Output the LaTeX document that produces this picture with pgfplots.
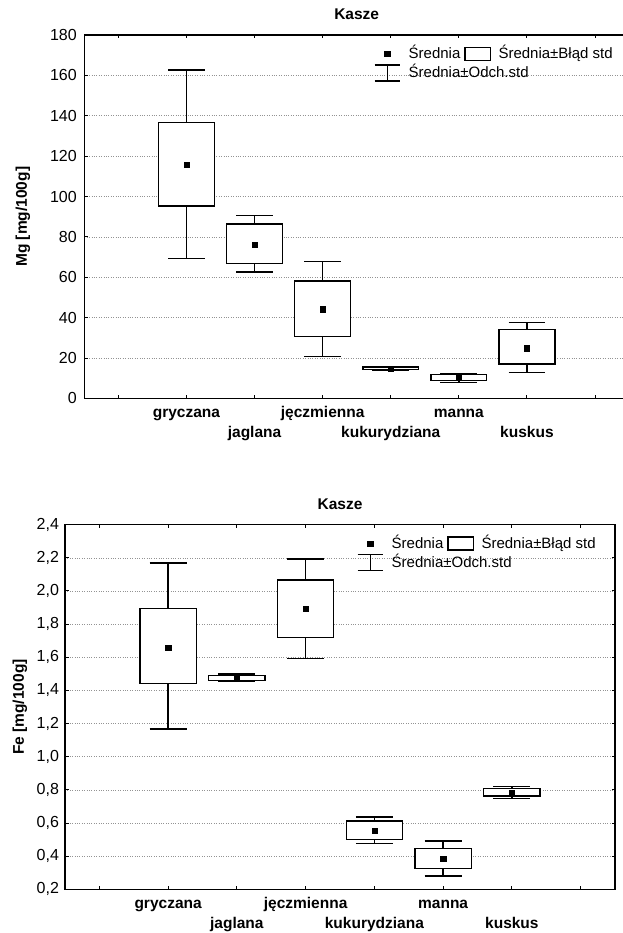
\documentclass[border=0pt]{standalone}
\usepackage{fontspec}
\setmainfont{Liberation Sans}
\usepackage{pgfplots}
\pgfplotsset{compat=1.18}
\usepgfplotslibrary{statistics}

\newcommand{\regfont}{\fontsize{15}{18}\selectfont}
\newcommand{\tickfont}{\fontsize{16}{18}\selectfont}
\newcommand{\boldfont}{\fontsize{15.5}{18}\selectfont\bfseries}

\pgfplotsset{
  kasze/.style={
    scale only axis,
    xmin=-0.5, xmax=7.5,
    xtick={0,1,2,3,4,5,6,7},
    xticklabels={,gryczana,,jęczmienna,,manna,,},
    extra x ticks={2,4,6},
    extra x tick labels={jaglana,kukurydziana,kuskus},
    extra x tick style={tick label style={yshift=-20pt}},
    xticklabel style={font=\boldfont, text height=11pt, text depth=3pt, yshift=-4.5pt},
    yticklabel style={font=\tickfont, xshift=-2.5pt},
    /pgf/number format/assume math mode=true,
    title={Kasze},
    title style={font=\boldfont, anchor=base, yshift=9pt},
    ylabel style={font=\boldfont, anchor=center},
    tick align=inside,
    major tick length=3.5pt,
    every tick/.style={black, line width=1pt},
    axis line style={line width=1.3pt},
    ymajorgrids,
    major grid style={dotted, gray!85, line width=0.6pt},
    legend columns=2,
    legend cell align=left,
    legend style={draw=none, fill=none, inner sep=0pt, outer sep=0pt,
      column sep=0pt, row sep=0pt, font=\regfont,
      nodes={inner xsep=4pt, inner ysep=3.6pt, text height=11pt, text depth=1pt}},
  },
  skrzynka/.style={
    draw=black, fill=white, line width=1.35pt, solid, forget plot,
    boxplot/draw direction=y,
    boxplot/box extend=0.82,
    boxplot/whisker extend=0.54,
    boxplot/draw/median/.code={},
  },
  srednie/.style={only marks, mark=square*, mark size=2.6pt, black, fill=black, forget plot},
  legenda/.code={
    \addlegendimage{legend image code/.code={
      \path[draw=none, fill=none] (0pt,0pt) -- (30pt,0pt);
      \fill[black] (9.9pt,-2.6pt) rectangle (15.1pt,2.6pt);}}
    \addlegendentry{Średnia}
    \addlegendimage{legend image code/.code={
      \path[draw=none, fill=none] (0pt,0pt) -- (30pt,0pt);
      \draw[line width=1.3pt, fill=none] (0.5pt,-6.5pt) rectangle (26pt,6.5pt);}}
    \addlegendentry{Średnia±Błąd std}
    \addlegendimage{legend image code/.code={
      \path[draw=none, fill=none] (0pt,0pt) -- (30pt,0pt);
      \draw[line width=1.3pt] (0pt,8pt) -- (25pt,8pt) (12.5pt,8pt) -- (12.5pt,-8pt) (0pt,-8pt) -- (25pt,-8pt);}}
    \addlegendentry{\makebox[0pt][l]{Średnia±Odch.std}}
  },
}

\begin{document}
\begin{tikzpicture}
\useasboundingbox (0pt,0pt) rectangle (622pt,933pt);

% Magnez
\begin{axis}[kasze,
  at={(84.3pt,534.5pt)}, anchor=south west,
  width=544.8pt, height=363.5pt,
  ymin=0, ymax=180,
  ytick={0,20,40,60,80,100,120,140,160,180},
  ylabel={Mg [mg/100g]},
  ylabel style={at={(axis description cs:-0.1125,0.5)}},
  yticklabel style={xshift=-1.5pt},
  legend style={at={(rel axis cs:0.5318,0.975)}, anchor=north west},
]
\pgfplotsset{legenda}
\addplot[skrzynka, boxplot prepared={draw position=1, median=116,
  lower quartile=95.3, upper quartile=136.7, lower whisker=69.4, upper whisker=162.6}] coordinates {};
\addplot[skrzynka, boxplot prepared={draw position=2, median=76.6,
  lower quartile=66.8, upper quartile=86.4, lower whisker=62.7, upper whisker=90.5}] coordinates {};
\addplot[skrzynka, boxplot prepared={draw position=3, median=44.3,
  lower quartile=30.6, upper quartile=58.2, lower whisker=20.8, upper whisker=67.8}] coordinates {};
\addplot[skrzynka, boxplot prepared={draw position=4, median=14.9,
  lower quartile=14.3, upper quartile=15.6, lower whisker=14.1, upper whisker=15.8}] coordinates {};
\addplot[skrzynka, boxplot prepared={draw position=5, median=10.4,
  lower quartile=9.0, upper quartile=11.9, lower whisker=7.9, upper whisker=12.4}] coordinates {};
\addplot[skrzynka, boxplot prepared={draw position=6, median=25.2,
  lower quartile=17.0, upper quartile=34.2, lower whisker=13.0, upper whisker=37.6}] coordinates {};
\addplot[srednie] coordinates {(1,115.8) (2,76.3) (3,44.2) (4,14.6) (5,10.4) (6,24.9)};
\end{axis}

% Żelazo
\begin{axis}[kasze,
  at={(65pt,43.7pt)}, anchor=south west,
  width=550pt, height=364.6pt,
  ymin=0.2, ymax=2.4,
  ytick={0.2,0.4,0.6,0.8,1.0,1.2,1.4,1.6,1.8,2.0,2.2,2.4},
  yticklabel style={/pgf/number format/.cd, use comma, fixed, fixed zerofill, precision=1},
  ylabel={Fe [mg/100g]},
  ylabel style={at={(axis description cs:-0.082,0.5)}},
  legend style={at={(rel axis cs:0.531,0.975)}, anchor=north west},
]
\pgfplotsset{legenda}
\addplot[skrzynka, boxplot prepared={draw position=1, median=1.665,
  lower quartile=1.44, upper quartile=1.895, lower whisker=1.167, upper whisker=2.168}] coordinates {};
\addplot[skrzynka, boxplot prepared={draw position=2, median=1.476,
  lower quartile=1.459, upper quartile=1.492, lower whisker=1.452, upper whisker=1.500}] coordinates {};
\addplot[skrzynka, boxplot prepared={draw position=3, median=1.893,
  lower quartile=1.72, upper quartile=2.066, lower whisker=1.594, upper whisker=2.192}] coordinates {};
\addplot[skrzynka, boxplot prepared={draw position=4, median=0.556,
  lower quartile=0.501, upper quartile=0.612, lower whisker=0.477, upper whisker=0.637}] coordinates {};
\addplot[skrzynka, boxplot prepared={draw position=5, median=0.386,
  lower quartile=0.327, upper quartile=0.446, lower whisker=0.280, upper whisker=0.492}] coordinates {};
\addplot[skrzynka, boxplot prepared={draw position=6, median=0.785,
  lower quartile=0.762, upper quartile=0.810, lower whisker=0.746, upper whisker=0.820}] coordinates {};
\addplot[srednie] coordinates {(1,1.656) (2,1.476) (3,1.894) (4,0.554) (5,0.385) (6,0.781)};
\end{axis}
\end{tikzpicture}
\end{document}
